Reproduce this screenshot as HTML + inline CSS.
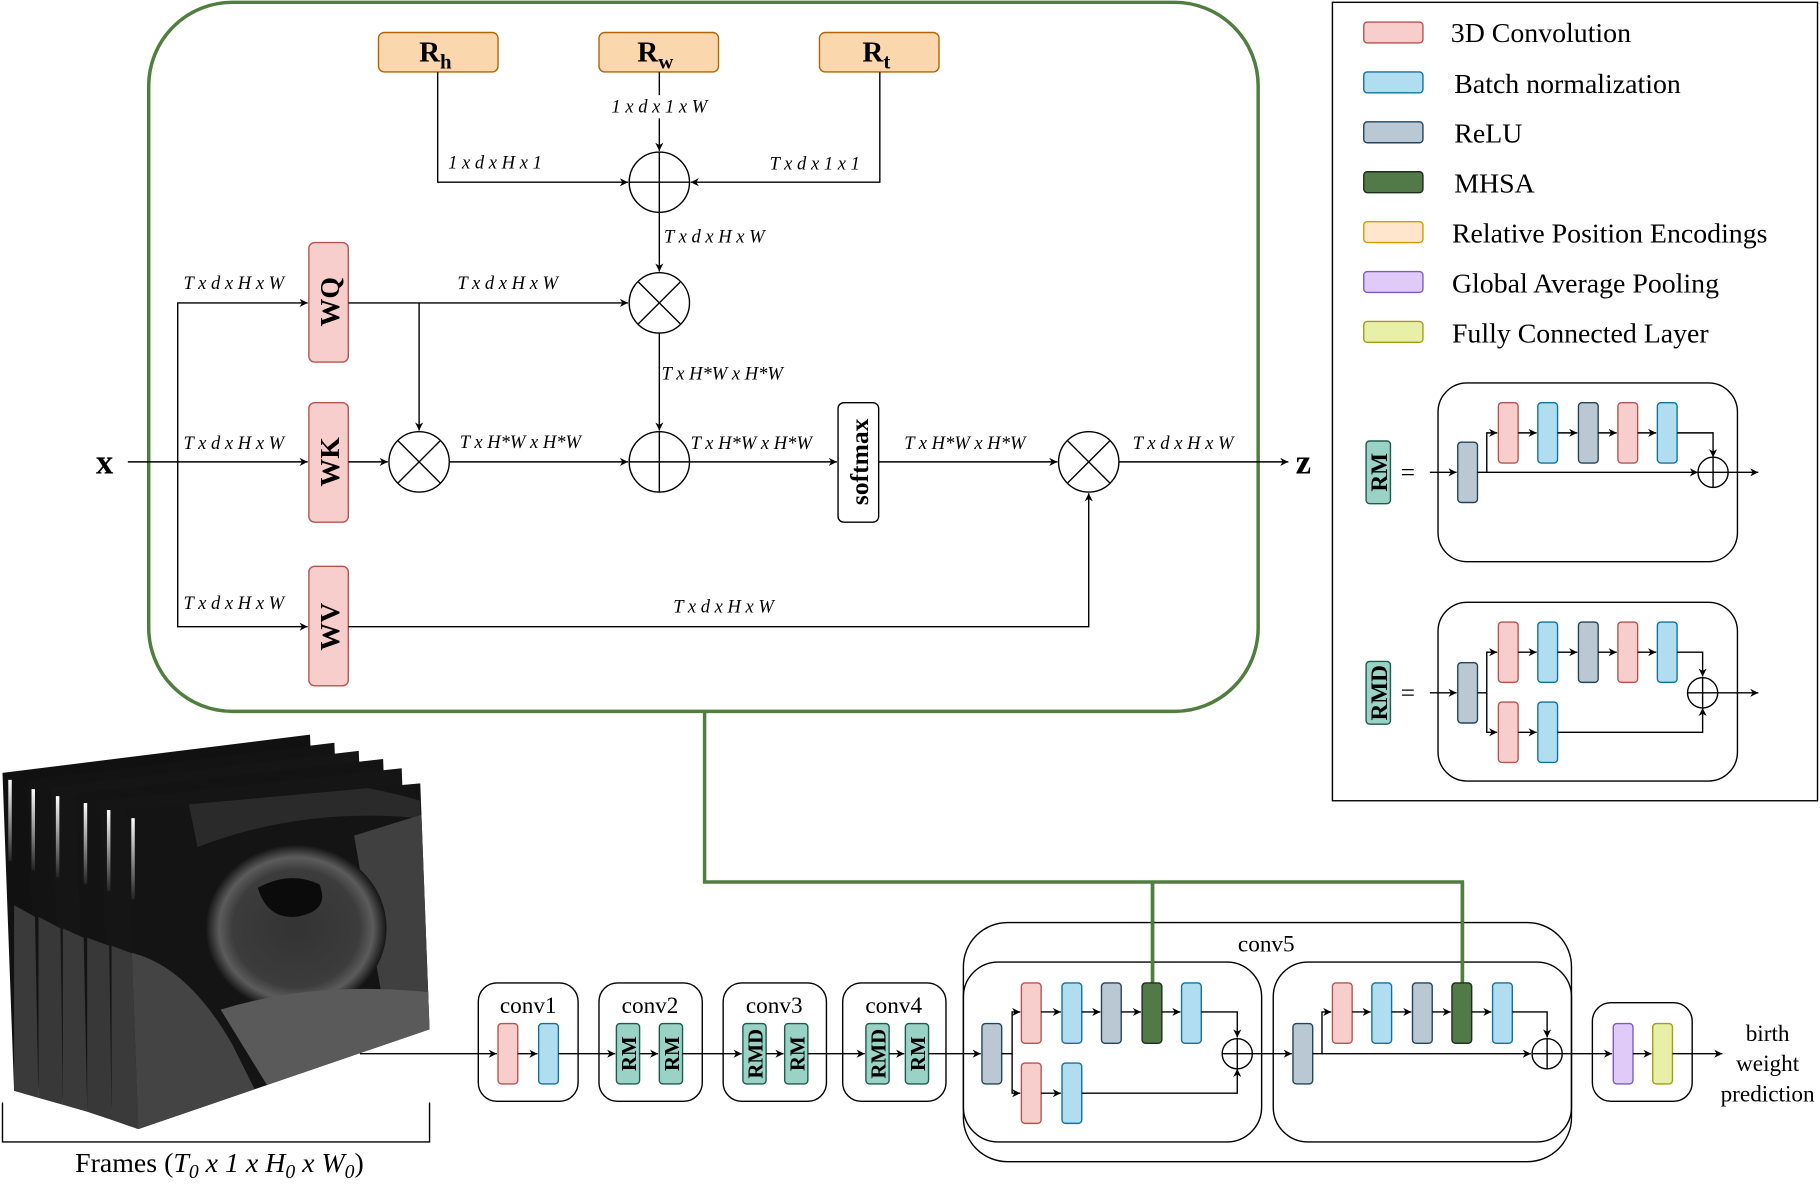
<!DOCTYPE html>
<html><head><meta charset="utf-8"><style>
html,body{margin:0;padding:0;background:#fff;}
svg{display:block;font-family:"Liberation Serif","Times New Roman",serif;}
svg text{font-family:"Liberation Serif","Times New Roman",serif;}
.lb{font-style:italic;font-size:16px;}
.pk{fill:#f8cecc;stroke:#b85450;stroke-width:1.2;}
.bl{fill:#b1ddf0;stroke:#10739e;stroke-width:1.2;}
.gr{fill:#bac8d3;stroke:#23445d;stroke-width:1.2;}
.dg{fill:#517a48;stroke:#1e2e1a;stroke-width:1.2;}
.or{fill:#fad7ac;stroke:#b46504;stroke-width:1.2;}
.pu{fill:#e0caf7;stroke:#7b5cc7;stroke-width:1.2;}
.ye{fill:#e8f0a8;stroke:#a0a010;stroke-width:1.2;}
.tl{fill:#9ad2c5;stroke:#1a5c4e;stroke-width:1.2;}
.ln{fill:none;stroke:#000;stroke-width:1.2;}
.bx{fill:none;stroke:#000;stroke-width:1.2;}
</style></head><body>
<svg width="1820" height="1193" viewBox="0 0 1568 1028" xmlns="http://www.w3.org/2000/svg" font-family="Liberation Serif, serif">
<defs>
<marker id="a" viewBox="0 0 10 10" refX="10" refY="5" markerWidth="7" markerHeight="7" orient="auto" markerUnits="userSpaceOnUse"><path d="M0,0 L10,5 L0,10 L3,5 z" fill="#000"/></marker>
<radialGradient id="head" cx="0.5" cy="0.5" r="0.5"><stop offset="0" stop-color="#333"/><stop offset="0.7" stop-color="#3c3c3c"/><stop offset="0.85" stop-color="#5c5c5c"/><stop offset="1" stop-color="#151515"/></radialGradient>
<linearGradient id="bar" x1="0" y1="0" x2="0" y2="1"><stop offset="0" stop-color="#fff"/><stop offset="1" stop-color="#222"/></linearGradient>
<clipPath id="fc"><polygon points="109,698 362,675 370,887 119,973"/></clipPath>
</defs>

<rect x="128" y="2" width="956" height="611" rx="72" fill="none" stroke="#507e3e" stroke-width="3"/>
<polyline points="607,613 607,760 1260,760 1260,847" fill="none" stroke="#507e3e" stroke-width="3"/>
<line x1="993" y1="760" x2="993" y2="847" stroke="#507e3e" stroke-width="3"/>

<rect class="or" x="326" y="28" width="103" height="34" rx="5"/>
<rect class="or" x="516" y="28" width="103" height="34" rx="5"/>
<rect class="or" x="706" y="28" width="103" height="34" rx="5"/>
<text x="361" y="53" font-size="25" font-weight="bold">R<tspan font-size="18" dy="6">h</tspan></text>
<text x="549" y="53" font-size="25" font-weight="bold">R<tspan font-size="18" dy="6">w</tspan></text>
<text x="743" y="53" font-size="25" font-weight="bold">R<tspan font-size="18" dy="6">t</tspan></text>

<polyline class="ln" points="377,62 377,157 541,157" marker-end="url(#a)"/>
<line class="ln" x1="568" y1="62" x2="568" y2="130" marker-end="url(#a)"/>
<polyline class="ln" points="758,62 758,157 595,157" marker-end="url(#a)"/>
<rect x="515" y="82" width="106" height="20" fill="#fff"/>
<text class="lb" x="568" y="97" text-anchor="middle">1 x d x 1 x W</text>
<text class="lb" x="386" y="145">1 x d x H x 1</text>
<text class="lb" x="663" y="146">T x d x 1 x 1</text>
<line class="ln" x1="568" y1="183" x2="568" y2="234" marker-end="url(#a)"/>
<text class="lb" x="572" y="209">T x d x H x W</text>
<line class="ln" x1="568" y1="287" x2="568" y2="371" marker-end="url(#a)"/>
<text class="lb" x="570" y="327">T x H*W x H*W</text>

<g class="ln">
<circle cx="568" cy="157" r="26"/><line x1="542" y1="157" x2="594" y2="157"/><line x1="568" y1="131" x2="568" y2="183"/>
<circle cx="568" cy="261" r="26"/><line x1="550" y1="243" x2="586" y2="279"/><line x1="586" y1="243" x2="550" y2="279"/>
<circle cx="361" cy="398" r="26"/><line x1="343" y1="380" x2="379" y2="416"/><line x1="379" y1="380" x2="343" y2="416"/>
<circle cx="568" cy="398" r="26"/><line x1="542" y1="398" x2="594" y2="398"/><line x1="568" y1="372" x2="568" y2="424"/>
<circle cx="938" cy="398" r="26"/><line x1="920" y1="380" x2="956" y2="416"/><line x1="956" y1="380" x2="920" y2="416"/>
</g>

<rect class="pk" x="266" y="209" width="34" height="103" rx="5"/>
<rect class="pk" x="266" y="347" width="34" height="103" rx="5"/>
<rect class="pk" x="266" y="488" width="34" height="103" rx="5"/>
<text transform="translate(292,260) rotate(-90)" text-anchor="middle" font-size="24" font-weight="bold">WQ</text>
<text transform="translate(292,398) rotate(-90)" text-anchor="middle" font-size="24" font-weight="bold">WK</text>
<text transform="translate(292,540) rotate(-90)" text-anchor="middle" font-size="24" font-weight="bold">WV</text>
<rect x="722" y="347" width="35" height="103" rx="5" fill="#fff" stroke="#000" stroke-width="1.2"/>
<text transform="translate(748,398) rotate(-90)" text-anchor="middle" font-size="22" font-weight="bold">softmax</text>

<text x="90" y="408" font-size="30" font-weight="bold" text-anchor="middle">x</text>
<text x="1123" y="408" font-size="30" font-weight="bold" text-anchor="middle">z</text>

<line class="ln" x1="110" y1="398" x2="265" y2="398" marker-end="url(#a)"/>
<polyline class="ln" points="153,398 153,261 265,261" marker-end="url(#a)"/>
<polyline class="ln" points="153,398 153,540 265,540" marker-end="url(#a)"/>
<line class="ln" x1="300" y1="261" x2="541" y2="261" marker-end="url(#a)"/>
<line class="ln" x1="361" y1="261" x2="361" y2="371" marker-end="url(#a)"/>
<line class="ln" x1="300" y1="398" x2="334" y2="398" marker-end="url(#a)"/>
<line class="ln" x1="387" y1="398" x2="541" y2="398" marker-end="url(#a)"/>
<line class="ln" x1="594" y1="398" x2="721" y2="398" marker-end="url(#a)"/>
<line class="ln" x1="757" y1="398" x2="911" y2="398" marker-end="url(#a)"/>
<line class="ln" x1="964" y1="398" x2="1110" y2="398" marker-end="url(#a)"/>
<polyline class="ln" points="300,540 938,540 938,425" marker-end="url(#a)"/>

<text class="lb" x="158" y="249">T x d x H x W</text>
<text class="lb" x="394" y="249">T x d x H x W</text>
<text class="lb" x="158" y="387">T x d x H x W</text>
<text class="lb" x="396" y="386">T x H*W x H*W</text>
<text class="lb" x="595" y="387">T x H*W x H*W</text>
<text class="lb" x="779" y="387">T x H*W x H*W</text>
<text class="lb" x="976" y="387">T x d x H x W</text>
<text class="lb" x="158" y="525">T x d x H x W</text>
<text class="lb" x="580" y="528">T x d x H x W</text>

<rect x="1148" y="2" width="418" height="688" fill="none" stroke="#000" stroke-width="1.2"/>
<rect class="pk" x="1175" y="19" width="51" height="18" rx="3"/>
<rect class="bl" x="1175" y="62" width="51" height="18" rx="3"/>
<rect class="gr" x="1175" y="105" width="51" height="18" rx="3"/>
<rect class="dg" x="1175" y="148" width="51" height="18" rx="3"/>
<rect x="1175" y="191" width="51" height="18" rx="3" fill="#ffe6cc" stroke="#d79b00" stroke-width="1.2"/>
<rect class="pu" x="1175" y="234" width="51" height="18" rx="3"/>
<rect class="ye" x="1175" y="277" width="51" height="18" rx="3"/>
<g font-size="24">
<text x="1250" y="36">3D Convolution</text>
<text x="1253" y="80">Batch normalization</text>
<text x="1253" y="123">ReLU</text>
<text x="1253" y="166">MHSA</text>
<text x="1251" y="209">Relative Position Encodings</text>
<text x="1251" y="252">Global Average Pooling</text>
<text x="1251" y="295">Fully Connected Layer</text>
</g>

<rect class="bx" x="1239" y="330" width="258" height="154" rx="25"/>
<rect class="tl" x="1177" y="380" width="21" height="54" rx="3"/>
<text transform="translate(1195,407) rotate(-90)" text-anchor="middle" font-size="20" font-weight="bold">RM</text>
<text x="1213" y="414" font-size="22" text-anchor="middle">=</text>
<rect class="gr" x="1256" y="381" width="17" height="52" rx="3"/>
<rect class="pk" x="1291" y="347" width="17" height="52" rx="3"/>
<rect class="bl" x="1325" y="347" width="17" height="52" rx="3"/>
<rect class="gr" x="1360" y="347" width="17" height="52" rx="3"/>
<rect class="pk" x="1394" y="347" width="17" height="52" rx="3"/>
<rect class="bl" x="1428" y="347" width="17" height="52" rx="3"/>
<line class="ln" x1="1232" y1="407" x2="1255" y2="407" marker-end="url(#a)"/>
<polyline class="ln" points="1273,407 1281,407 1281,373 1290,373" marker-end="url(#a)"/>
<line class="ln" x1="1308" y1="373" x2="1324" y2="373" marker-end="url(#a)"/>
<line class="ln" x1="1342" y1="373" x2="1359" y2="373" marker-end="url(#a)"/>
<line class="ln" x1="1377" y1="373" x2="1393" y2="373" marker-end="url(#a)"/>
<line class="ln" x1="1411" y1="373" x2="1427" y2="373" marker-end="url(#a)"/>
<polyline class="ln" points="1445,373 1476,373 1476,394" marker-end="url(#a)"/>
<line class="ln" x1="1281" y1="407" x2="1463" y2="407" marker-end="url(#a)"/>
<circle class="ln" cx="1476" cy="407" r="13"/><line class="ln" x1="1463" y1="407" x2="1489" y2="407"/><line class="ln" x1="1476" y1="394" x2="1476" y2="420"/>
<line class="ln" x1="1489" y1="407" x2="1515" y2="407" marker-end="url(#a)"/>

<rect class="bx" x="1239" y="519" width="258" height="154" rx="25"/>
<rect class="tl" x="1177" y="570" width="21" height="54" rx="3"/>
<text transform="translate(1195,597) rotate(-90)" text-anchor="middle" font-size="20" font-weight="bold">RMD</text>
<text x="1213" y="604" font-size="22" text-anchor="middle">=</text>
<rect class="gr" x="1256" y="571" width="17" height="52" rx="3"/>
<rect class="pk" x="1291" y="536" width="17" height="52" rx="3"/>
<rect class="bl" x="1325" y="536" width="17" height="52" rx="3"/>
<rect class="gr" x="1360" y="536" width="17" height="52" rx="3"/>
<rect class="pk" x="1394" y="536" width="17" height="52" rx="3"/>
<rect class="bl" x="1428" y="536" width="17" height="52" rx="3"/>
<rect class="pk" x="1291" y="605" width="17" height="52" rx="3"/>
<rect class="bl" x="1325" y="605" width="17" height="52" rx="3"/>
<line class="ln" x1="1232" y1="597" x2="1255" y2="597" marker-end="url(#a)"/>
<polyline class="ln" points="1273,597 1281,597 1281,562 1290,562" marker-end="url(#a)"/>
<polyline class="ln" points="1281,597 1281,631 1290,631" marker-end="url(#a)"/>
<line class="ln" x1="1308" y1="562" x2="1324" y2="562" marker-end="url(#a)"/>
<line class="ln" x1="1342" y1="562" x2="1359" y2="562" marker-end="url(#a)"/>
<line class="ln" x1="1377" y1="562" x2="1393" y2="562" marker-end="url(#a)"/>
<line class="ln" x1="1411" y1="562" x2="1427" y2="562" marker-end="url(#a)"/>
<line class="ln" x1="1308" y1="631" x2="1324" y2="631" marker-end="url(#a)"/>
<polyline class="ln" points="1445,562 1467,562 1467,583" marker-end="url(#a)"/>
<polyline class="ln" points="1342,631 1467,631 1467,610" marker-end="url(#a)"/>
<circle class="ln" cx="1467" cy="597" r="13"/><line class="ln" x1="1454" y1="597" x2="1480" y2="597"/><line class="ln" x1="1467" y1="584" x2="1467" y2="610"/>
<line class="ln" x1="1480" y1="597" x2="1515" y2="597" marker-end="url(#a)"/>

<!-- ultrasound frames -->
<g>
<polygon points="2,666 267,633 275,845 12,940" fill="#111"/>
<polygon points="23,672 288,640 296,852 33,946" fill="#131313"/>
<polygon points="44,678 309,647 317,859 54,952" fill="#151515"/>
<polygon points="65,684 330,654 338,866 75,958" fill="#131313"/>
<polygon points="86,690 346,662 354,876 96,965" fill="#151515"/>
<path d="M12,780 L30,790 L33,946 L12,940 Z" fill="#3a3a3a"/>
<path d="M33,790 L52,800 L54,952 L33,946 Z" fill="#383838"/>
<path d="M54,800 L72,808 L75,958 L54,952 Z" fill="#3a3a3a"/>
<path d="M75,808 L94,815 L96,965 L75,958 Z" fill="#383838"/>
<path d="M96,815 L115,822 L119,973 L96,965 Z" fill="#3a3a3a"/>
<polygon points="109,698 362,675 370,887 119,973" fill="#141414"/>
<g clip-path="url(#fc)">
<path d="M109,820 Q160,830 200,900 L230,960 L109,980 Z" fill="#444"/>
<path d="M160,680 Q260,660 362,690 L362,705 Q260,695 170,730 Z" fill="#2a2a2a"/>
<path d="M305,720 L370,700 L370,860 L330,865 Z" fill="#404040"/>
<ellipse cx="255" cy="800" rx="78" ry="72" fill="url(#head)"/>
<path d="M222,765 Q250,750 275,762 Q285,785 255,790 Q230,792 222,765 Z" fill="#0b0b0b"/>
<path d="M190,870 Q270,845 370,855 L370,887 L230,935 Z" fill="#5a5a5a"/>
</g>
<rect x="7" y="672" width="3" height="70" fill="url(#bar)"/>
<rect x="27" y="680" width="3" height="70" fill="url(#bar)"/>
<rect x="48" y="686" width="3" height="70" fill="url(#bar)"/>
<rect x="72" y="692" width="3" height="70" fill="url(#bar)"/>
<rect x="92" y="698" width="3" height="70" fill="url(#bar)"/>
<rect x="113" y="705" width="3" height="70" fill="url(#bar)"/>
</g>
<polyline class="ln" points="2,950 2,984 370,984 370,950"/>
<text x="189" y="1010" font-size="24" text-anchor="middle">Frames (<tspan font-style="italic">T<tspan font-size="17" dy="5">0</tspan><tspan dy="-5"> x 1 x H</tspan><tspan font-size="17" dy="5">0</tspan><tspan dy="-5"> x W</tspan><tspan font-size="17" dy="5">0</tspan></tspan><tspan dy="-5">)</tspan></text>

<line class="ln" x1="310" y1="908" x2="428" y2="908" marker-end="url(#a)"/>
<rect class="bx" x="412" y="847" width="86" height="102" rx="16"/>
<rect class="bx" x="516" y="847" width="89" height="102" rx="16"/>
<rect class="bx" x="623" y="847" width="89" height="102" rx="16"/>
<rect class="bx" x="726" y="847" width="89" height="102" rx="16"/>
<g font-size="20" text-anchor="middle">
<text x="455" y="873">conv1</text><text x="560" y="873">conv2</text><text x="667" y="873">conv3</text><text x="770" y="873">conv4</text>
<text x="1091" y="820">conv5</text>
</g>
<rect class="pk" x="429" y="882" width="17" height="52" rx="3"/>
<rect class="bl" x="464" y="882" width="17" height="52" rx="3"/>
<rect class="tl" x="531" y="882" width="20" height="52" rx="3"/>
<rect class="tl" x="568" y="882" width="20" height="52" rx="3"/>
<rect class="tl" x="640" y="882" width="20" height="52" rx="3"/>
<rect class="tl" x="676" y="882" width="20" height="52" rx="3"/>
<rect class="tl" x="746" y="882" width="20" height="52" rx="3"/>
<rect class="tl" x="780" y="882" width="20" height="52" rx="3"/>
<g font-size="18" font-weight="bold" text-anchor="middle">
<text transform="translate(548,908) rotate(-90)">RM</text>
<text transform="translate(585,908) rotate(-90)">RM</text>
<text transform="translate(657,908) rotate(-90)">RMD</text>
<text transform="translate(693,908) rotate(-90)">RM</text>
<text transform="translate(763,908) rotate(-90)">RMD</text>
<text transform="translate(797,908) rotate(-90)">RM</text>
</g>
<line class="ln" x1="446" y1="908" x2="463" y2="908" marker-end="url(#a)"/>
<line class="ln" x1="481" y1="908" x2="530" y2="908" marker-end="url(#a)"/>
<line class="ln" x1="551" y1="908" x2="567" y2="908" marker-end="url(#a)"/>
<line class="ln" x1="588" y1="908" x2="639" y2="908" marker-end="url(#a)"/>
<line class="ln" x1="660" y1="908" x2="675" y2="908" marker-end="url(#a)"/>
<line class="ln" x1="696" y1="908" x2="745" y2="908" marker-end="url(#a)"/>
<line class="ln" x1="766" y1="908" x2="779" y2="908" marker-end="url(#a)"/>
<line class="ln" x1="800" y1="908" x2="845" y2="908" marker-end="url(#a)"/>

<rect class="bx" x="830" y="795" width="524" height="206" rx="38"/>
<rect class="bx" x="830" y="829" width="257" height="155" rx="30" fill="#fff"/>
<rect class="bx" x="1097" y="829" width="257" height="155" rx="30" fill="#fff"/>
<line x1="993" y1="760" x2="993" y2="847" stroke="#507e3e" stroke-width="3"/>
<line x1="1260" y1="760" x2="1260" y2="847" stroke="#507e3e" stroke-width="3"/>
<rect class="gr" x="846" y="882" width="17" height="52" rx="3"/>
<rect class="pk" x="880" y="847" width="17" height="52" rx="3"/>
<rect class="bl" x="915" y="847" width="17" height="52" rx="3"/>
<rect class="gr" x="949" y="847" width="17" height="52" rx="3"/>
<rect class="dg" x="984" y="847" width="17" height="52" rx="3"/>
<rect class="bl" x="1018" y="847" width="17" height="52" rx="3"/>
<rect class="pk" x="880" y="916" width="17" height="52" rx="3"/>
<rect class="bl" x="915" y="916" width="17" height="52" rx="3"/>
<polyline class="ln" points="863,908 872,908 872,872 879,872" marker-end="url(#a)"/>
<polyline class="ln" points="872,908 872,942 879,942" marker-end="url(#a)"/>
<line class="ln" x1="897" y1="872" x2="914" y2="872" marker-end="url(#a)"/>
<line class="ln" x1="932" y1="872" x2="948" y2="872" marker-end="url(#a)"/>
<line class="ln" x1="966" y1="872" x2="983" y2="872" marker-end="url(#a)"/>
<line class="ln" x1="1001" y1="872" x2="1017" y2="872" marker-end="url(#a)"/>
<line class="ln" x1="897" y1="942" x2="914" y2="942" marker-end="url(#a)"/>
<polyline class="ln" points="1035,872 1066,872 1066,894" marker-end="url(#a)"/>
<polyline class="ln" points="932,942 1066,942 1066,921" marker-end="url(#a)"/>
<circle class="ln" cx="1066" cy="908" r="13"/><line class="ln" x1="1053" y1="908" x2="1079" y2="908"/><line class="ln" x1="1066" y1="895" x2="1066" y2="921"/>
<line class="ln" x1="1079" y1="908" x2="1113" y2="908" marker-end="url(#a)"/>
<rect class="gr" x="1114" y="882" width="17" height="52" rx="3"/>
<rect class="pk" x="1148" y="847" width="17" height="52" rx="3"/>
<rect class="bl" x="1182" y="847" width="17" height="52" rx="3"/>
<rect class="gr" x="1217" y="847" width="17" height="52" rx="3"/>
<rect class="dg" x="1251" y="847" width="17" height="52" rx="3"/>
<rect class="bl" x="1286" y="847" width="17" height="52" rx="3"/>
<polyline class="ln" points="1131,908 1139,908 1139,872 1147,872" marker-end="url(#a)"/>
<line class="ln" x1="1165" y1="872" x2="1181" y2="872" marker-end="url(#a)"/>
<line class="ln" x1="1199" y1="872" x2="1216" y2="872" marker-end="url(#a)"/>
<line class="ln" x1="1234" y1="872" x2="1250" y2="872" marker-end="url(#a)"/>
<line class="ln" x1="1268" y1="872" x2="1285" y2="872" marker-end="url(#a)"/>
<polyline class="ln" points="1303,872 1333,872 1333,894" marker-end="url(#a)"/>
<line class="ln" x1="1139" y1="908" x2="1319" y2="908" marker-end="url(#a)"/>
<circle class="ln" cx="1333" cy="908" r="13"/><line class="ln" x1="1320" y1="908" x2="1346" y2="908"/><line class="ln" x1="1333" y1="895" x2="1333" y2="921"/>
<line class="ln" x1="1346" y1="908" x2="1389" y2="908" marker-end="url(#a)"/>
<rect class="bx" x="1372" y="864" width="86" height="85" rx="16"/>
<rect class="pu" x="1390" y="882" width="17" height="52" rx="3"/>
<rect class="ye" x="1424" y="882" width="17" height="52" rx="3"/>
<line class="ln" x1="1407" y1="908" x2="1423" y2="908" marker-end="url(#a)"/>
<line class="ln" x1="1441" y1="908" x2="1484" y2="908" marker-end="url(#a)"/>
<g font-size="20" text-anchor="middle">
<text x="1523" y="897">birth</text><text x="1523" y="923">weight</text><text x="1523" y="949">prediction</text>
</g>
</svg>
</body></html>
